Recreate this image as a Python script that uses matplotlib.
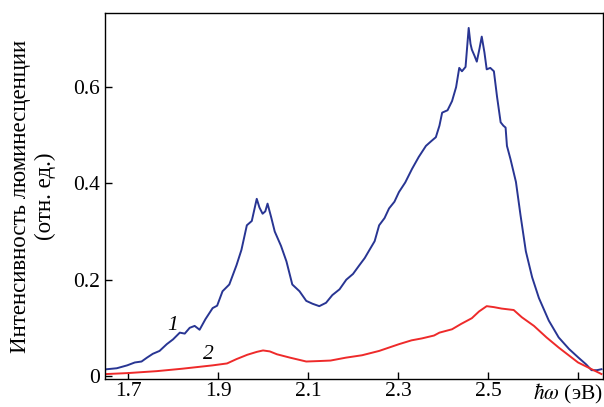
import numpy as np
import matplotlib.pyplot as plt
import matplotlib.transforms as mtransforms

plt.rcParams['font.family'] = ['Liberation Serif', 'DejaVu Serif']
plt.rcParams['mathtext.fontset'] = 'stix'

# curve 1 (blue)
energy_1 = [1.653, 1.675, 1.698, 1.715, 1.730, 1.742, 1.755, 1.770, 1.786, 1.800,
            1.815, 1.826, 1.837, 1.848, 1.859, 1.872, 1.888, 1.898, 1.910, 1.925,
            1.941, 1.952, 1.964, 1.975, 1.986, 1.992, 1.999, 2.005, 2.010, 2.018,
            2.026, 2.040, 2.052, 2.065, 2.081, 2.096, 2.110, 2.125, 2.140, 2.154,
            2.170, 2.185, 2.200, 2.214, 2.226, 2.236, 2.248, 2.258, 2.270, 2.280,
            2.292, 2.302, 2.316, 2.331, 2.346, 2.362, 2.374, 2.384, 2.392, 2.398,
            2.410, 2.420, 2.429, 2.436, 2.442, 2.450, 2.457, 2.461, 2.464, 2.470,
            2.475, 2.481, 2.486, 2.492, 2.497, 2.505, 2.513, 2.520, 2.528, 2.534,
            2.539, 2.542, 2.550, 2.562, 2.572, 2.584, 2.598, 2.613, 2.635, 2.657,
            2.680, 2.701, 2.718, 2.730, 2.742, 2.752]
intensity_1 = [0.014, 0.016, 0.022, 0.028, 0.030, 0.038, 0.046, 0.052, 0.066, 0.076,
               0.090, 0.088, 0.100, 0.104, 0.096, 0.118, 0.141, 0.146, 0.176, 0.190,
               0.230, 0.262, 0.313, 0.322, 0.368, 0.350, 0.337, 0.342, 0.358, 0.330,
               0.300, 0.270, 0.238, 0.190, 0.176, 0.156, 0.150, 0.145, 0.152, 0.168,
               0.180, 0.200, 0.212, 0.230, 0.245, 0.261, 0.280, 0.313, 0.328, 0.348,
               0.362, 0.382, 0.402, 0.430, 0.455, 0.478, 0.488, 0.496, 0.520, 0.547,
               0.552, 0.571, 0.600, 0.640, 0.633, 0.642, 0.723, 0.690, 0.678, 0.665,
               0.653, 0.680, 0.705, 0.672, 0.637, 0.640, 0.633, 0.580, 0.527, 0.520,
               0.516, 0.478, 0.450, 0.403, 0.335, 0.259, 0.205, 0.162, 0.115, 0.080,
               0.056, 0.038, 0.024, 0.012, 0.012, 0.014]

# curve 2 (red)
energy_2 = [1.653, 1.700, 1.764, 1.820, 1.888, 1.920, 1.941, 1.965, 1.986, 2.000,
            2.015, 2.031, 2.060, 2.096, 2.125, 2.150, 2.184, 2.220, 2.258, 2.280,
            2.302, 2.330, 2.353, 2.380, 2.392, 2.420, 2.440, 2.464, 2.480, 2.497,
            2.513, 2.530, 2.557, 2.575, 2.602, 2.630, 2.657, 2.700, 2.752]
intensity_2 = [0.004, 0.006, 0.010, 0.015, 0.022, 0.026, 0.035, 0.044, 0.050, 0.053,
               0.051, 0.045, 0.038, 0.030, 0.031, 0.032, 0.038, 0.043, 0.052, 0.059,
               0.066, 0.074, 0.078, 0.084, 0.090, 0.097, 0.108, 0.120, 0.134, 0.145,
               0.143, 0.140, 0.137, 0.122, 0.104, 0.080, 0.059, 0.028, 0.004]

x_ticks = [1.7, 1.9, 2.1, 2.3, 2.5, 2.7]
x_labels = ['1.7', '1.9', '2.1', '2.3', '2.5', r'$\hbar\omega$ (эВ)']
y_ticks = [0, 0.2, 0.4, 0.6]
y_labels = ['0', '0.2', '0.4', '0.6']

fig, ax = plt.subplots(figsize=(6.04, 4.07), dpi=100)
fig.subplots_adjust(left=0.174, right=0.998, top=0.968, bottom=0.068)

ax.plot(energy_1, intensity_1, color='#283593', lw=1.4)
ax.plot(energy_2, intensity_2, color='#ee2a2a', lw=1.4)

ax.set_xlim(1.649, 2.755)
ax.set_ylim(-0.007, 0.754)
ax.set_xticks(x_ticks)
ax.set_xticklabels(x_labels)
ax.set_yticks(y_ticks)
ax.set_yticklabels(y_labels)
ax.tick_params(direction='in', labelsize=15.5, length=5, width=1, pad=4)
ax.tick_params(axis='x', pad=2)

# pull the unit label a little to the left so it stays inside
last = ax.get_xticklabels()[-1]
last.set_transform(last.get_transform()
                   + mtransforms.ScaledTranslation(-0.1, 0, fig.dpi_scale_trans))

ax.set_ylabel('Интенсивность люминесценции\n(отн. ед.)', fontsize=16.5,
              linespacing=1.25, labelpad=12)

ax.text(1.786, 0.095, '1', fontsize=15.5, style='italic')
ax.text(1.867, 0.036, '2', fontsize=15.5, style='italic')

for s in ax.spines.values():
    s.set_linewidth(1)

fig.savefig('out.png')
